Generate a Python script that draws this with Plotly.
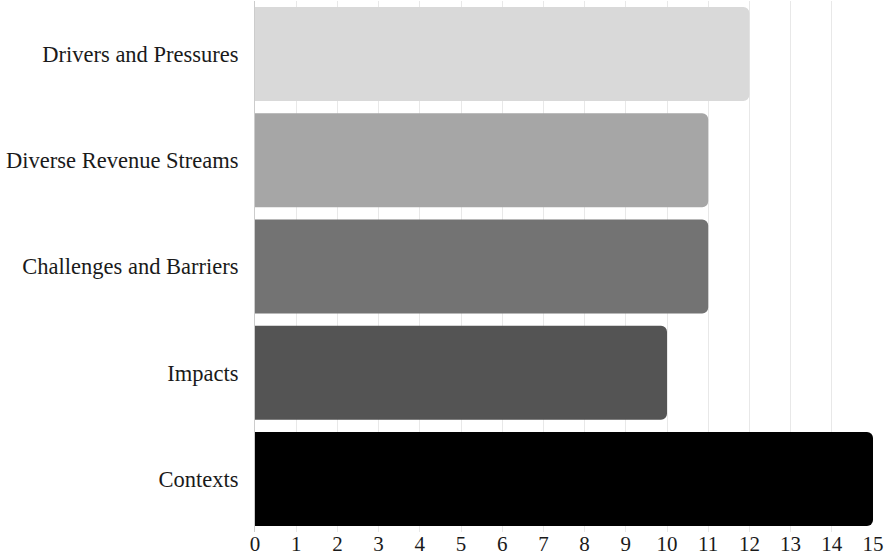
import plotly.graph_objects as go

categories = ["Drivers and Pressures", "Diverse Revenue Streams", "Challenges and Barriers", "Impacts", "Contexts"]
values = [12, 11, 11, 10, 15]
colors = ["#d9d9d9", "#a6a6a6", "#737373", "#545454", "#000000"]
x_ticks = list(range(0, 16))

fig = go.Figure(go.Bar(
    y=categories, x=values, orientation="h",
    marker=dict(color=colors, line=dict(width=0), cornerradius=6),
    width=0.885,
))
fig.update_layout(
    width=888, height=557,
    margin=dict(l=255, r=15, t=1, b=25, pad=0),
    paper_bgcolor="white", plot_bgcolor="white",
    font=dict(family="Liberation Serif", size=22, color="#1a1a1a"),
    showlegend=False,
)
fig.update_xaxes(range=[0, 15], tickvals=x_ticks, showgrid=True, gridcolor="#e8e8e8", gridwidth=1,
                 zeroline=False, showline=False, ticks="", tickfont=dict(size=21), ticklabelstandoff=-3,
                 automargin=False)
fig.update_yaxes(categoryorder="array", categoryarray=categories[::-1], showgrid=False, zeroline=False,
                 showline=True, linecolor="#cccccc", linewidth=1, ticks="", ticklabelstandoff=11,
                 tickfont=dict(size=22.5), automargin=False)
fig.write_html("out.html", config={"displayModeBar": False},
               post_script="document.body.style.margin='0';")
